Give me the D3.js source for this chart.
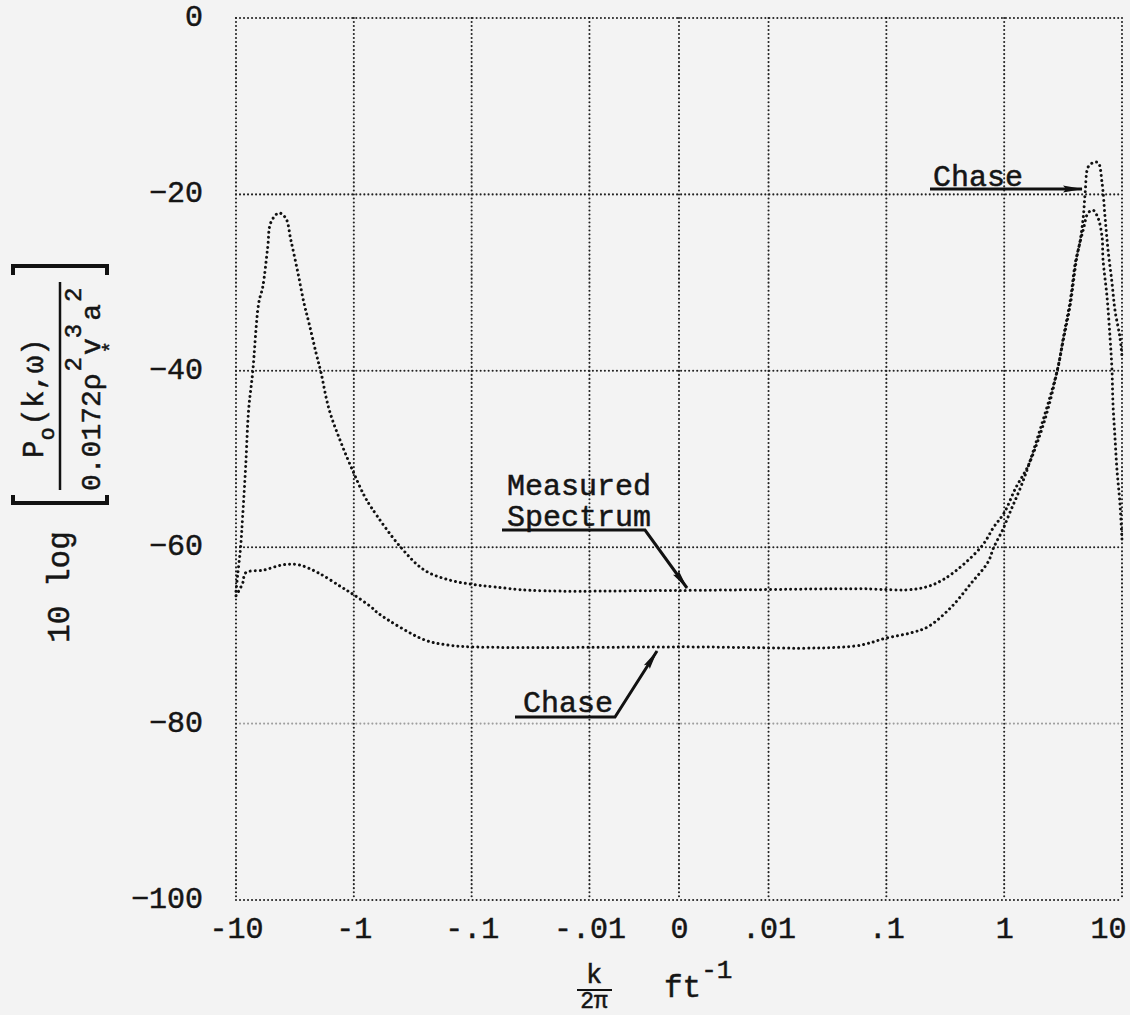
<!DOCTYPE html>
<html>
<head>
<meta charset="utf-8">
<script src="https://cdn.jsdelivr.net/npm/d3@7"></script>
<style>
  body { margin: 0; background: #f3f3f3; }
  svg { display: block; }
  text { font-family: "Liberation Mono", "DejaVu Sans Mono", monospace; fill: #151515; stroke: #151515; stroke-width: 0.5; }
</style>
</head>
<body>
<div id="chart"></div>
<script>
// tick values along k/2pi (ft^-1) and level (dB)
var xTicks = [-10, -1, -0.1, -0.01, 0, 0.01, 0.1, 1, 10];
var xTickLabels = ['-10', '-1', '-.1', '-.01', '0', '.01', '.1', '1', '10'];
var yTicks = [0, -20, -40, -60, -80, -100];

// measured spectrum
var measuredK = [-10, -9.69, -9.14, -8.79, -8.28, -7.81, -7.22, -6.41, -5.93, -5.38, -5.07, -4.33,
  -3.78, -3.42, -2.98, -2.65, -2.4, -2.09, -1.9, -1.62, -1.28, -1.0, -0.82, -0.71, -0.4, -0.252,
  -0.157, -0.1, -0.064, -0.031, 0, 0.051, 0.187, 0.31, 0.635, 0.817, 1.0, 1.25, 1.58, 1.95, 2.38,
  2.83, 3.18, 3.64, 4.17, 4.69, 5.16, 5.69, 6.27, 6.77, 6.9, 7.46, 7.91, 8.22, 8.38, 8.71, 9.06, 9.6, 10];
var measuredDb = [-65, -63.2, -60, -56.6, -50.9, -44.4, -40.2, -32.3, -30.5, -26, -23.2, -22.1,
  -22.7, -25.2, -28.9, -32.3, -34.6, -38, -40.2, -44.4, -48.2, -51.6, -54.1, -55.5, -60, -62.6,
  -63.7, -64.2, -64.5, -64.9, -64.9, -64.7, -64.7, -63.6, -60, -57.7, -56.1, -53.3, -50.9, -47.8, -44.1,
  -39.9, -36.5, -32.5, -26.9, -24, -22.1, -21.8, -22.7, -24.8, -27.4, -31.6, -36.2, -39.9, -43.7, -47.5, -51.2, -55, -59.2];

// Chase model
var chaseK = [-10, -8.79, -8.28, -5.82, -4.01, -2.93, -2.01, -1.28, -1.0, -0.71, -0.62, -0.252,
  -0.157, -0.1, 0, 0.054, 0.1, 0.163, 0.227, 0.355, 0.523, 0.728, 0.817, 0.973, 1.14, 1.38, 1.67,
  2.83, 3.18, 3.64, 4.01, 4.42, 4.69, 4.87, 5.16, 5.69, 6.27, 6.77, 7.18, 7.61, 8.22, 8.71, 9.6, 10];
var chaseDb = [-65.5, -64.1, -62.9, -62.6, -62, -62, -62.9, -64.5, -65.4, -66.8, -67.5, -70.5,
  -71.1, -71.3, -71.3, -71.2, -70.3, -69.7, -69, -66.8, -64.1, -61.7, -60, -58, -55.8, -53.2, -50.1,
  -39.9, -36.2, -32, -27.8, -25.2, -22.6, -19.8, -16.9, -16.4, -16.4, -18.7, -22.6, -26.3, -30, -33.1, -36.2, -38.4];

var W = 1130, H = 1015;
var plot = { left: 236, right: 1122, top: 18, bottom: 900 };

// decades on each side, linear band of 0.76 decade either side of zero
function u(k) {
  var a = Math.abs(k);
  if (a <= 0.01) return k / 0.01 * 0.76;
  return Math.sign(k) * (0.76 + Math.log10(a / 0.01));
}

var x = d3.scaleLinear().domain([u(-10), u(10)]).range([plot.left, plot.right]);
var y = d3.scaleLinear().domain([-100, 0]).range([plot.bottom, plot.top]);

var svg = d3.select('#chart').append('svg')
  .attr('width', W).attr('height', H);

svg.append('rect').attr('width', W).attr('height', H).attr('fill', '#f3f3f3');

var defs = svg.append('defs');
defs.append('marker')
  .attr('id', 'head')
  .attr('viewBox', '0 0 20 10')
  .attr('refX', 19).attr('refY', 5)
  .attr('markerWidth', 20).attr('markerHeight', 10)
  .attr('markerUnits', 'userSpaceOnUse')
  .attr('orient', 'auto')
  .append('path')
  .attr('d', 'M0,1.5 L20,5 L0,8.5 L3,5 Z')
  .attr('fill', '#111');

// grid (also forms the dotted frame)
var grid = svg.append('g');
grid.selectAll('.vgrid')
  .data(xTicks)
  .enter().append('line')
  .attr('class', 'vgrid')
  .attr('x1', function(d) { return x(u(d)); })
  .attr('x2', function(d) { return x(u(d)); })
  .attr('y1', plot.top).attr('y2', plot.bottom);
grid.selectAll('.hgrid')
  .data(yTicks)
  .enter().append('line')
  .attr('class', 'hgrid')
  .attr('x1', plot.left).attr('x2', plot.right)
  .attr('y1', function(d) { return y(d); })
  .attr('y2', function(d) { return y(d); })
  .attr('opacity', function(d) { return d == -80 ? 0.4 : 1; });
grid.selectAll('line')
  .attr('stroke', '#222')
  .attr('stroke-width', 2.1)
  .attr('stroke-linecap', 'round')
  .attr('stroke-dasharray', '0.01 4');

// axes labels
var xAxis = svg.append('g')
  .attr('transform', 'translate(0,' + plot.bottom + ')')
  .call(d3.axisBottom(x)
    .tickValues(xTicks.map(u))
    .tickFormat(function(d, i) { return xTickLabels[i]; })
    .tickSize(0)
    .tickPadding(17));
xAxis.select('.domain').remove();
xAxis.selectAll('text')
  .attr('font-size', 30)
  .attr('font-family', null)
  .attr('fill', null);
xAxis.selectAll('.tick:last-of-type text')
  .attr('text-anchor', 'end')
  .attr('dx', 4);

var yAxis = svg.append('g')
  .attr('transform', 'translate(' + plot.left + ',0)')
  .call(d3.axisLeft(y)
    .tickValues(yTicks)
    .tickSize(0)
    .tickPadding(33));
yAxis.select('.domain').remove();
yAxis.selectAll('text')
  .attr('font-size', 30)
  .attr('font-family', null)
  .attr('fill', null)
  .attr('dy', '0.25em');

// curves
var line = d3.line()
  .x(function(d) { return x(u(d[0])); })
  .y(function(d) { return y(d[1]); })
  .curve(d3.curveCatmullRom.alpha(0.5));

var series = [
  d3.zip(measuredK, measuredDb),
  d3.zip(chaseK, chaseDb)
];
svg.selectAll('.curve')
  .data(series)
  .enter().append('path')
  .attr('class', 'curve')
  .attr('d', line)
  .attr('fill', 'none')
  .attr('stroke', '#111')
  .attr('stroke-width', 3)
  .attr('stroke-linecap', 'round')
  .attr('stroke-dasharray', '0.01 5');

// annotations
var ann = svg.append('g');
function callout(pts) {
  ann.append('path')
    .attr('d', d3.line()(pts))
    .attr('fill', 'none')
    .attr('stroke', '#111')
    .attr('stroke-width', 3)
    .attr('marker-end', 'url(#head)');
}

ann.append('text').attr('x', 507).attr('y', 495).attr('font-size', 30).text('Measured');
ann.append('text').attr('x', 507).attr('y', 526).attr('font-size', 30).text('Spectrum');
callout([[502, 530], [645, 530], [687, 588]]);

ann.append('text').attr('x', 523).attr('y', 712).attr('font-size', 30).text('Chase');
callout([[515, 717], [615, 717], [657, 651]]);

ann.append('text').attr('x', 933).attr('y', 186).attr('font-size', 30).text('Chase');
callout([[930, 189], [1082, 189]]);

// x title
var xt = svg.append('g');
xt.append('text').attr('x', 594).attr('y', 983).attr('text-anchor', 'middle').attr('font-size', 27).text('k');
xt.append('line').attr('x1', 577).attr('x2', 612).attr('y1', 990).attr('y2', 990)
  .attr('stroke', '#111').attr('stroke-width', 2);
xt.append('text').attr('x', 594).attr('y', 1008).attr('text-anchor', 'middle').attr('font-size', 23).text('2π');
var ft = xt.append('text').attr('x', 664).attr('y', 997).attr('font-size', 31);
ft.append('tspan').text('ft');
ft.append('tspan').attr('font-size', 26).attr('dy', -19).text('-1');

// y title, rotated
var yt = svg.append('g').attr('transform', 'rotate(-90)');
yt.append('text').attr('x', -587).attr('y', 69).attr('text-anchor', 'middle').attr('font-size', 31).text('10 log');

var num = yt.append('text').attr('x', -458).attr('y', 43).attr('font-size', 29);
num.append('tspan').text('P');
num.append('tspan').attr('font-size', 22).attr('dy', 11).text('o');
num.append('tspan').attr('dy', -11).attr('dx', 2).text('(k,ω)');

yt.append('line').attr('x1', -490).attr('x2', -282).attr('y1', 60).attr('y2', 60)
  .attr('stroke', '#111').attr('stroke-width', 2.5);

var den = yt.append('text').attr('x', -491).attr('y', 100).attr('font-size', 28);
den.append('tspan').text('0.0172ρ');
den.append('tspan').attr('font-size', 24).attr('dx', 2).attr('dy', -19).text('2');
den.append('tspan').attr('dx', 2).attr('dy', 19).text('v');
den.append('tspan').attr('font-size', 20).attr('dx', -15).attr('dy', 17).text('*');
den.append('tspan').attr('font-size', 24).attr('dx', 3).attr('dy', -36).text('3');
den.append('tspan').attr('dx', 3).attr('dy', 19).text('a');
den.append('tspan').attr('font-size', 24).attr('dx', 2).attr('dy', -19).text('2');

// brackets
svg.append('path')
  .attr('d', 'M13,495 V503 H107 V495 M13,275 V266 H107 V275')
  .attr('fill', 'none')
  .attr('stroke', '#111')
  .attr('stroke-width', 4);
</script>
</body>
</html>
